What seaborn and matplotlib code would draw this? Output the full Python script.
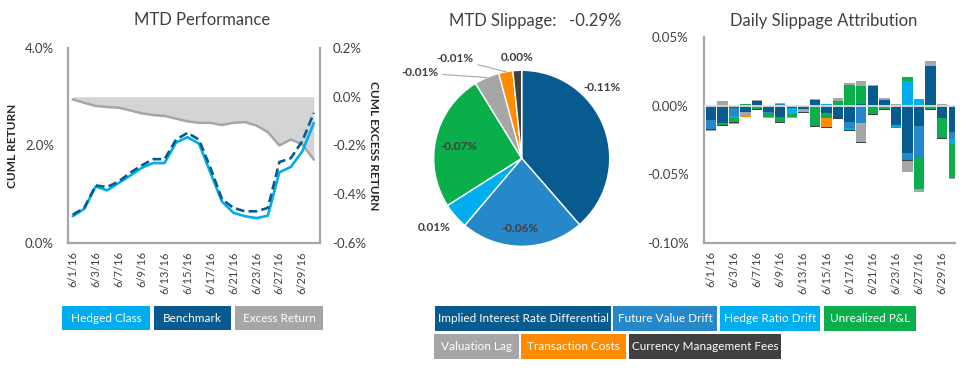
import numpy as np
import matplotlib
matplotlib.use("Agg")
import matplotlib.pyplot as plt
import seaborn as sns
from matplotlib.patches import Rectangle

# trading days, June 2016
dates = ['6/1/16', '6/2/16', '6/3/16', '6/6/16', '6/7/16', '6/8/16', '6/9/16', '6/10/16',
         '6/13/16', '6/14/16', '6/15/16', '6/16/16', '6/17/16', '6/20/16', '6/21/16',
         '6/22/16', '6/23/16', '6/24/16', '6/27/16', '6/28/16', '6/29/16', '6/30/16']

# MTD performance (%)
hedged_class = [0.55, 0.70, 1.16, 1.08, 1.23, 1.38, 1.54, 1.64, 1.64, 2.06, 2.17, 2.04,
                1.44, 0.85, 0.62, 0.55, 0.51, 0.56, 1.45, 1.56, 1.88, 2.46]
benchmark = [0.58, 0.72, 1.18, 1.15, 1.26, 1.44, 1.59, 1.72, 1.72, 2.12, 2.26, 2.12,
             1.54, 0.90, 0.72, 0.65, 0.65, 0.72, 1.66, 1.74, 2.09, 2.67]
excess_return = [-0.011, -0.025, -0.038, -0.042, -0.045, -0.056, -0.068, -0.075, -0.079,
                 -0.090, -0.101, -0.107, -0.107, -0.116, -0.107, -0.104, -0.118, -0.145,
                 -0.200, -0.175, -0.196, -0.258]

# MTD slippage pie
slip_names = ['Implied Interest Rate Differential', 'Future Value Drift', 'Hedge Ratio Drift',
              'Unrealized P&L', 'Valuation Lag', 'Transaction Costs', 'Currency Management Fees']
slip_share = [38.6, 22.6, 4.8, 25.2, 4.6, 2.6, 1.6]
slip_text = ['-0.11%', '-0.06%', '0.01%', '-0.07%', '-0.01%', '-0.01%', '0.00%']
mtd_slippage = '-0.29%'

# daily slippage attribution (%)
iird = [-0.0107, -0.0125, -0.0015, -0.0044, 0.0032, -0.0044, -0.0085, -0.0017, -0.0024, 0.0044,
        -0.0055, -0.0090, -0.0118, 0.0015, 0.0146, 0.0044, -0.0140, -0.0345, -0.0148, 0.0286,
        -0.0087, -0.0190]
fvd = [-0.0060, 0.0007, -0.0058, 0, 0.0005, -0.0007, 0.0010, 0, 0, 0,
       0, 0, -0.0046, -0.0128, 0, 0, 0, -0.0053, -0.0232, 0,
       0.0007, -0.0050]
hrd = [0, 0, -0.0020, 0, 0, 0, 0, -0.0045, 0, 0,
       0.0010, 0, -0.0010, 0, 0, 0, -0.0013, 0.0178, 0.0052, 0,
       0, -0.0040]
upl = [0, -0.0019, -0.0024, 0.0015, -0.0024, -0.0030, -0.0036, -0.0022, 0, -0.0146,
       -0.0036, 0.0036, 0.0153, 0.0131, -0.0058, -0.0023, -0.0007, 0.0028, -0.0224, -0.0027,
       -0.0148, -0.0245]
val_lag = [0, 0, 0, -0.0029, 0, 0, 0, 0, -0.0024, 0,
           0, 0, 0, -0.0135, 0, 0, 0, 0, 0, 0,
           0, 0]
tx_costs = [0, 0, 0, -0.0010, 0, 0, 0, 0, 0, 0,
            -0.0066, 0, 0, 0, 0, 0, 0, 0, 0, 0,
            0, 0]
mgmt_fees = [-0.0007, -0.0007, -0.0006, 0, -0.0005, 0, -0.0005, 0, -0.0007, -0.0007,
             -0.0007, -0.0005, -0.0007, -0.0007, -0.0007, -0.0007, -0.0006, -0.0007, 0, -0.0005,
             -0.0007, 0]
residual = [-0.0007, 0.0029, -0.0008, 0, 0.0007, -0.0007, 0.0007, -0.0007, 0, 0.0007,
            0.0005, 0.0022, 0.0015, 0.0036, 0.0007, 0.0010, 0.0010, -0.0078, -0.0022, 0.0042,
            0.0007, -0.0008]

DARK_BLUE = '#075b8f'
MID_BLUE = '#2688c9'
LIGHT_BLUE = '#00adee'
GREEN = '#0aae4a'
GRAY = '#a6a6a6'
ORANGE = '#ff8c00'
CHARCOAL = '#404040'
slip_colors = [DARK_BLUE, MID_BLUE, LIGHT_BLUE, GREEN, GRAY, ORANGE, CHARCOAL]
TXT = '#404040'

sns.set_theme(style="white")
plt.rcParams['font.family'] = ['Lato', 'DejaVu Sans']
plt.rcParams['text.color'] = TXT
plt.rcParams['xtick.color'] = TXT
plt.rcParams['ytick.color'] = TXT

W, H = 971, 373
fig = plt.figure(figsize=(W / 100, H / 100), dpi=100)


def fig_rect(x0, y0, x1, y1):
    # pixel box (top-left origin) -> figure fraction rect
    return [x0 / W, 1 - y1 / H, (x1 - x0) / W, (y1 - y0) / H]


x = np.arange(len(dates))
tick_idx = x[::2]

# 1. MTD Performance
ax2 = fig.add_axes(fig_rect(68, 48, 320, 243))
ax = ax2.twinx()
# fill belongs on the right axis (excess), lines on top
ax2, ax = ax, ax2
ax2.fill_between(x, excess_return, 0, color='#d4d4d4', lw=0, zorder=1)
sns.lineplot(x=x, y=excess_return, ax=ax2, color=GRAY, lw=1.8)
ax2.set_ylim(-0.6, 0.2)
ax2.set_yticks([-0.6, -0.4, -0.2, 0.0, 0.2])
ax2.set_yticklabels([f'{v:.1f}%' for v in [-0.6, -0.4, -0.2, 0.0, 0.2]], fontsize=9.5)
ax2.set_ylabel('CUML EXCESS RETURN', fontsize=8.5, fontweight='bold', rotation=270, labelpad=9)
ax2.yaxis.set_label_position('right')
ax2.tick_params(axis='y', length=0, pad=9, labelright=True, labelleft=False)

sns.lineplot(x=x, y=hedged_class, ax=ax, color=LIGHT_BLUE, lw=1.9)
sns.lineplot(x=x, y=benchmark, ax=ax, color=DARK_BLUE, lw=1.9)
ax.lines[-1].set_dashes((3.3, 1.6))
ax.set_zorder(ax2.get_zorder() + 1)
ax.patch.set_visible(False)
ax.set_ylim(0, 4)
ax.set_yticks([0, 2, 4])
ax.set_yticklabels(['0.0%', '2.0%', '4.0%'], fontsize=9.5)
ax.set_ylabel('CUML RETURN', fontsize=8.5, fontweight='bold', labelpad=5)
ax.yaxis.set_label_position('left')
ax.tick_params(axis='y', length=0, pad=10, labelleft=True, labelright=False)
for a in (ax, ax2):
    a.set_xlim(-0.41, 21.54)
    a.set_xticks(tick_idx)
    a.set_xticklabels([dates[i] for i in tick_idx], rotation=90, fontsize=8)
    a.tick_params(axis='x', length=0, pad=6)
    a.set_xlabel('')
    for s in a.spines.values():
        s.set_visible(False)
ax2.tick_params(axis='x', labelbottom=False)
for side in ('left', 'right', 'bottom'):
    ax.spines[side].set_visible(True)
    ax.spines[side].set_color(GRAY)
    ax.spines[side].set_linewidth(1.6)
fig.text(202 / W, 1 - 20 / H, 'MTD Performance', ha='center', va='center', fontsize=12, color=TXT)

# 2. MTD Slippage pie
pie_r = 120
axp = fig.add_axes(fig_rect(521.7 - pie_r, 158.3 - pie_r, 521.7 + pie_r, 158.3 + pie_r))
wedges, _ = axp.pie(slip_share, colors=slip_colors, startangle=90, counterclock=False,
                    wedgeprops=dict(edgecolor='white', linewidth=1))
lim = pie_r / 88
axp.set_xlim(-lim, lim)
axp.set_ylim(-lim, lim)
axp.set_aspect('equal')
axp.axis('off')
label_pos = [(0.91, 0.81), (-0.02, -0.80), (-0.99, -0.79), (-0.71, 0.13),
             (-1.16, 0.97), (-0.76, 1.13), (-0.05, 1.14)]
leader = [False, False, False, False, True, True, False]
for w, txt, pos, lead in zip(wedges, slip_text, label_pos, leader):
    if lead:
        mid = np.deg2rad((w.theta1 + w.theta2) / 2)
        axp.annotate(txt, xy=(np.cos(mid), np.sin(mid)), xytext=pos, ha='center', va='center',
                     fontsize=8.5, fontweight='bold', color=TXT,
                     arrowprops=dict(arrowstyle='-', color=GRAY, lw=0.8, shrinkA=1, shrinkB=0))
    else:
        axp.text(pos[0], pos[1], txt, ha='center', va='center', fontsize=8.5,
                 fontweight='bold', color=TXT)
fig.text(535 / W, 1 - 21 / H, f'MTD Slippage:   {mtd_slippage}', ha='center', va='center',
         fontsize=12, color=TXT)

# 3. Daily Slippage Attribution
ax3 = fig.add_axes(fig_rect(704, 37, 955, 243))
bar_series = [(iird, DARK_BLUE), (fvd, MID_BLUE), (hrd, LIGHT_BLUE), (upl, GREEN),
              (val_lag, GRAY), (tx_costs, ORANGE), (mgmt_fees, CHARCOAL), (residual, GRAY)]
pos_base = np.zeros(len(x))
neg_base = np.zeros(len(x))
for vals, col in bar_series:
    v = np.array(vals, dtype=float)
    bottom = np.where(v >= 0, pos_base, neg_base)
    sns.barplot(x=x, y=v, bottom=bottom, color=col, saturation=1, width=0.9,
                errorbar=None, linewidth=0, ax=ax3)
    pos_base += np.clip(v, 0, None)
    neg_base += np.clip(v, None, 0)
ax3.axhline(0, color='#dcdcdc', lw=1.3, zorder=5)
ax3.set_xlim(-0.58, 21.1)
ax3.set_ylim(-0.10, 0.05)
ax3.set_yticks([-0.10, -0.05, 0.0, 0.05])
ax3.set_yticklabels([f'{v:.2f}%' for v in [-0.10, -0.05, 0.0, 0.05]], fontsize=9.5)
ax3.set_xticks(tick_idx)
ax3.set_xticklabels([dates[i] for i in tick_idx], rotation=90, fontsize=8)
ax3.tick_params(axis='x', length=0, pad=6)
ax3.tick_params(axis='y', length=0, pad=11)
ax3.set_xlabel('')
ax3.set_ylabel('')
for side in ('top', 'right'):
    ax3.spines[side].set_visible(False)
for side in ('left', 'bottom'):
    ax3.spines[side].set_color(GRAY)
    ax3.spines[side].set_linewidth(1.6)
fig.text(824 / W, 1 - 21 / H, 'Daily Slippage Attribution', ha='center', va='center',
         fontsize=12, color=TXT)

# legend chips
chips = [('Hedged Class', LIGHT_BLUE, 62, 150, 306, 330),
         ('Benchmark', DARK_BLUE, 154, 231, 306, 330),
         ('Excess Return', GRAY, 235, 323, 306, 330),
         (slip_names[0], DARK_BLUE, 435, 611, 306, 331),
         (slip_names[1], MID_BLUE, 613, 717, 306, 331),
         (slip_names[2], LIGHT_BLUE, 720, 820, 306, 331),
         (slip_names[3], GREEN, 824, 916, 306, 331),
         (slip_names[4], GRAY, 434, 519, 334, 359),
         (slip_names[5], ORANGE, 521, 626, 334, 359),
         (slip_names[6], CHARCOAL, 629, 781, 334, 359)]
for label, col, x0, x1, y0, y1 in chips:
    fig.patches.append(Rectangle((x0 / W, 1 - y1 / H), (x1 - x0) / W, (y1 - y0) / H,
                                 transform=fig.transFigure, facecolor=col, edgecolor='none'))
    fig.text((x0 + x1) / 2 / W, 1 - (y0 + y1) / 2 / H, label, ha='center', va='center',
             fontsize=8.5, color='white')

fig.savefig('out.png', dpi=100)
